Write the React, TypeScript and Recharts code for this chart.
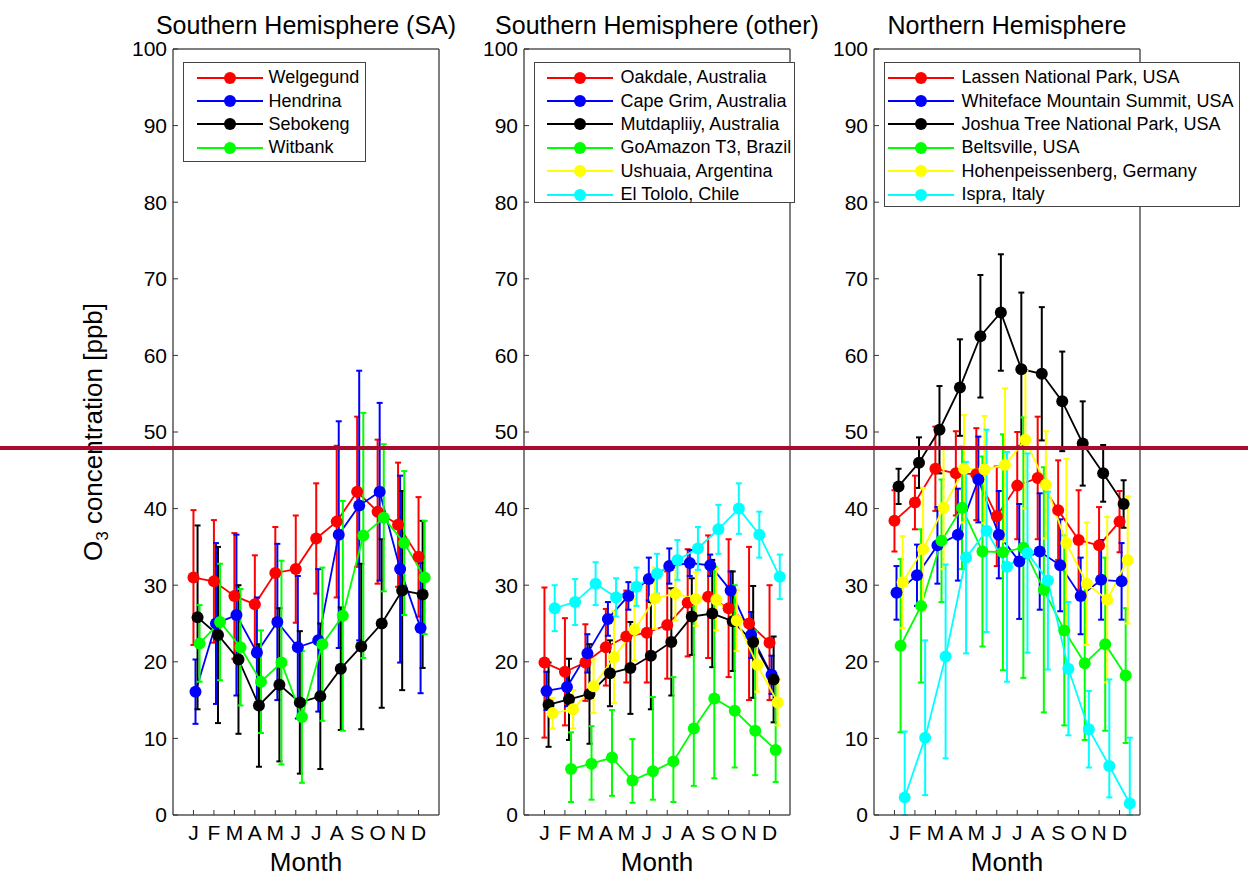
import { ErrorBar, Label, Legend, Line, LineChart, XAxis, YAxis } from 'recharts';

const FONT = '"Liberation Sans", Arial, Helvetica, sans-serif';

const MONTHS = ['J', 'F', 'M', 'A', 'M', 'J', 'J', 'A', 'S', 'O', 'N', 'D'];
const MONTH_NUM = [1, 2, 3, 4, 5, 6, 7, 8, 9, 10, 11, 12];
const Y_TICKS = [0, 10, 20, 30, 40, 50, 60, 70, 80, 90, 100];

const COLORS = [
    '#FF0000', // red
    '#0000FF', // blue
    '#000000', // black
    '#00FF00', // green
    '#FFFF00', // yellow
    '#00FFFF', // cyan
];

// --- Southern Hemisphere (SA)
const SA_NAMES = ['Welgegund', 'Hendrina', 'Sebokeng', 'Witbank'];
const welgegund = [31.0, 30.5, 28.6, 27.5, 31.6, 32.1, 36.1, 38.3, 42.2, 39.6, 37.9, 33.7];
const welgegundErr = [8.8, 8.0, 8.2, 6.4, 6.0, 7.0, 7.2, 9.9, 9.8, 9.4, 8.1, 7.8];
const hendrina = [16.1, 25.0, 26.1, 21.2, 25.2, 21.9, 22.8, 36.6, 40.4, 42.2, 32.1, 24.4];
const hendrinaErr = [4.2, 10.5, 10.5, 7.2, 10.2, 9.3, 9.3, 14.8, 17.6, 11.6, 12.2, 8.5];
const sebokeng = [25.8, 23.5, 20.3, 14.3, 17.0, 14.7, 15.5, 19.1, 22.0, 25.0, 29.3, 28.8];
const sebokengErr = [12, 11.5, 9.7, 8, 10, 9.3, 9.5, 8, 10.8, 11, 13, 9.6];
const witbank = [22.4, 25.2, 21.9, 17.4, 19.9, 12.8, 22.3, 26.0, 36.5, 38.8, 35.5, 31.0];
const witbankErr = [5, 7.6, 7.6, 6.7, 13.3, 8.6, 10, 15, 16, 9.6, 9.4, 7.4];

// --- Southern Hemisphere (other)
const SO_NAMES = [
    'Oakdale, Australia',
    'Cape Grim, Australia',
    'Mutdapliiy, Australia',
    'GoAmazon T3, Brazil',
    'Ushuaia, Argentina',
    'El Tololo, Chile',
];
const oakdale = [19.9, 18.7, 19.9, 21.9, 23.3, 23.8, 24.8, 27.7, 28.5, 27.0, 25.0, 22.5];
const oakdaleErr = [9.8, 7, 5, 5, 6, 6.5, 7, 7, 8, 9, 10, 7.5];
const capeGrim = [16.2, 16.7, 21.1, 25.6, 28.6, 30.8, 32.5, 32.9, 32.6, 29.3, 23.5, 18.3];
const capeGrimErr = [2.5, 2.5, 2.5, 2.2, 1.8, 2.8, 2.3, 1.7, 1.4, 2.5, 3, 2.5];
const mutdapliiy = [14.4, 15.1, 15.8, 18.5, 19.2, 20.8, 22.6, 25.9, 26.3, 25.3, 22.6, 17.7];
const mutdapliiyErr = [5.5, 5.3, 6.5, 4.3, 6, 7, 7, 5, 7, 6.5, 7.3, 5.6];
const goAmazon = [null, 6.0, 6.7, 7.5, 4.5, 5.7, 7.0, 11.3, 15.2, 13.6, 11.0, 8.5];
const goAmazonErr = [null, [4.3, 4.8], [4.7, 4.9], [5, 6.2], [2.9, 5.4], [3.7, 9.7], [5.3, 11], [7.5, 16], [10.4, 17.2], [7.4, 16.4], [5.8, 13], [4.2, 9.1]];
const ushuaia = [13.3, 13.8, 16.8, 20.6, 24.2, 28.3, 28.9, 28.2, 28.1, 25.4, 19.6, 14.7];
const ushuaiaErr = [2, 2.5, 3.5, 6, 4, 4, 3.5, 3.5, 4, 4, 3.5, 3];
const elTololo = [27.0, 27.8, 30.2, 28.4, 29.8, 31.5, 33.3, 34.8, 37.3, 40.0, 36.6, 31.1];
const elTololoErr = [3, 3, 2.8, 2.5, 2.5, 2.6, 2.6, 2.8, 3.2, 3.3, 3, 2.9];

// --- Northern Hemisphere
const NH_NAMES = [
    'Lassen National Park, USA',
    'Whiteface Mountain Summit, USA',
    'Joshua Tree National Park, USA',
    'Beltsville, USA',
    'Hohenpeissenberg, Germany',
    'Ispra, Italy',
];
const lassen = [38.4, 40.8, 45.2, 44.6, 44.5, 39.0, 43.0, 44.0, 39.8, 35.9, 35.2, 38.3];
const lassenErr = [4, 3.5, 5.5, 5.5, 6, 6.5, 7, 8, 6.5, 6.5, 5, 4];
const whiteface = [29.0, 31.3, 35.2, 36.6, 43.8, 36.6, 33.1, 34.4, 32.6, 28.6, 30.7, 30.5];
const whitefaceErr = [3.5, 4, 5, 6, 5.6, 5.7, 7.5, 7.6, 6, 5, 5.2, 5];
const joshuaTree = [42.9, 46.0, 50.3, 55.8, 62.5, 65.6, 58.2, 57.6, 54.0, 48.5, 44.6, 40.6];
const joshuaTreeErr = [2.3, 3.3, 5.7, 6.3, 8, 7.6, 10, 8.7, 6.5, 5.5, 3.7, 3.1];
const beltsville = [22.1, 27.3, 35.8, 40.1, 34.4, 34.3, 34.9, 29.4, 24.1, 19.8, 22.3, 18.2];
const beltsvilleErr = [11.3, 10, 8, 8, 12.4, 15.4, 17, 16, 12.4, 10, 11.3, 8.8];
const hohenpeissenberg = [30.4, 34.7, 40.1, 45.2, 45.1, 45.7, 49.0, 43.1, 35.5, 30.2, 28.1, 33.3];
const hohenpeissenbergErr = [6, 8, 8, 7, 7, 10, 9, 7, 11, 8, 10.8, 8.3];
const ispra = [2.3, 10.1, 20.7, 33.6, 37.1, 32.4, 34.2, 30.6, 19.1, 11.2, 6.4, 1.5];
const ispraErr = [[2.3, 8.6], [7.5, 12.7], [13.3, 12], 12.5, 13.2, 15, 13, 11.6, 8.7, 5, [4.1, 11.3], [1.5, 8.6]];

const PANELS = [
    {
        title: 'Southern Hemisphere (SA)',
        names: SA_NAMES,
        values: [welgegund, hendrina, sebokeng, witbank],
        errs: [welgegundErr, hendrinaErr, sebokengErr, witbankErr],
        left: 40,
        yWidth: 133,
        legend: { left: 143, width: 183, height: 100, pad: 12.5, gap: 6 },
    },
    {
        title: 'Southern Hemisphere (other)',
        names: SO_NAMES,
        values: [oakdale, capeGrim, mutdapliiy, goAmazon, ushuaia, elTololo],
        errs: [oakdaleErr, capeGrimErr, mutdapliiyErr, goAmazonErr, ushuaiaErr, elTololoErr],
        left: 444,
        yWidth: 80,
        legend: { left: 90, width: 261, height: 141, pad: 11.5, gap: 8 },
    },
    {
        title: 'Northern Hemisphere',
        names: NH_NAMES,
        values: [lassen, whiteface, joshuaTree, beltsville, hohenpeissenberg, ispra],
        errs: [lassenErr, whitefaceErr, joshuaTreeErr, beltsvilleErr, hohenpeissenbergErr, ispraErr],
        left: 794,
        yWidth: 80,
        legend: { left: 90, width: 356, height: 145, pad: 2.5, gap: 8 },
    },
];

const PLOT_W = 266;
const RIGHT_W = 5;
const CHART_H = 876;

const axisLine = { stroke: '#555', strokeWidth: 1.5 };
const tickLine = { stroke: '#333', strokeWidth: 1 };

// each station is shifted a little along x so bars don't sit on top of each other
const buildSeries = (values, errs, k) =>
    MONTH_NUM.map((m, i) => ({ x: m + k * 0.1, y: values[i], err: errs[i] })).filter((d) => d.y != null);

const YLabel = (props) => {
    const { viewBox } = props;
    const x = viewBox.x + 62;
    const y = viewBox.y + viewBox.height / 2;
    return (
        <text x={x} y={y} transform={`rotate(-90, ${x}, ${y})`} textAnchor='middle' fill='#000' fontSize={26} fontFamily={FONT}>
            O
            <tspan fontSize={17} dy='0.35em'>
                3
            </tspan>
            <tspan dy='-0.24em'> concentration [ppb]</tspan>
        </text>
    );
};

const renderLegend = (names, cfg) => () => (
    <div
        style={{
            border: '1.5px solid #444',
            background: '#fff',
            width: cfg.width,
            height: cfg.height,
            boxSizing: 'border-box',
            paddingTop: 3,
            fontFamily: FONT,
        }}
    >
        {names.map((name, i) => (
            <div key={name} style={{ display: 'flex', alignItems: 'center', height: 23.4, fontSize: 18, color: '#000', whiteSpace: 'nowrap' }}>
                <svg width={66} height={14} style={{ marginLeft: cfg.pad, marginRight: cfg.gap, flex: 'none' }}>
                    <line x1={0} y1={7} x2={66} y2={7} stroke={COLORS[i]} strokeWidth={2} />
                    <circle cx={33} cy={7} r={6} fill={COLORS[i]} />
                </svg>
                {name}
            </div>
        ))}
    </div>
);

function Panel({ panel, showYLabel }) {
    const width = panel.yWidth + PLOT_W + RIGHT_W;
    return (
        <div style={{ position: 'absolute', left: panel.left, top: 0 }}>
            <LineChart width={width} height={CHART_H} margin={{ top: 48, right: 0, bottom: 0, left: 0 }}>
                <XAxis
                    dataKey='x'
                    type='number'
                    domain={[0, 13]}
                    ticks={MONTH_NUM}
                    interval={0}
                    allowDataOverflow
                    tickFormatter={(v) => MONTHS[v - 1]}
                    height={61}
                    tickSize={-5}
                    tickMargin={15}
                    axisLine={axisLine}
                    tickLine={tickLine}
                    tick={{ fill: '#000', fontSize: 21, fontFamily: FONT }}
                >
                    <Label value='Month' position='insideBottom' offset={5} fill='#000' fontSize={26} fontFamily={FONT} />
                </XAxis>
                <XAxis
                    xAxisId='top'
                    orientation='top'
                    dataKey='x'
                    type='number'
                    domain={[0, 13]}
                    ticks={MONTH_NUM}
                    interval={0}
                    allowDataOverflow
                    height={1}
                    tick={false}
                    tickSize={-5}
                    axisLine={axisLine}
                    tickLine={tickLine}
                >
                    <Label value={panel.title} position='top' offset={14} fill='#000' fontSize={25} fontFamily={FONT} />
                </XAxis>
                <YAxis
                    dataKey='y'
                    type='number'
                    domain={[0, 100]}
                    ticks={Y_TICKS}
                    interval={0}
                    allowDataOverflow
                    width={panel.yWidth}
                    tickSize={-5}
                    tickMargin={11}
                    axisLine={axisLine}
                    tickLine={tickLine}
                    tick={{ fill: '#000', fontSize: 21, fontFamily: FONT }}
                >
                    {showYLabel && <Label content={YLabel} />}
                </YAxis>
                <YAxis
                    yAxisId='right'
                    orientation='right'
                    type='number'
                    domain={[0, 100]}
                    ticks={Y_TICKS}
                    interval={0}
                    allowDataOverflow
                    width={RIGHT_W}
                    tick={false}
                    tickSize={-5}
                    axisLine={axisLine}
                    tickLine={tickLine}
                />
                <Legend
                    layout='horizontal'
                    align='center'
                    verticalAlign='middle'
                    content={renderLegend(panel.names, panel.legend)}
                    wrapperStyle={{ position: 'absolute', left: panel.legend.left, top: 62, width: 'auto', height: 'auto' }}
                />
                {panel.names.map((name, k) => (
                    <Line
                        key={name}
                        name={name}
                        data={buildSeries(panel.values[k], panel.errs[k], k)}
                        dataKey='y'
                        stroke={COLORS[k]}
                        strokeWidth={1.8}
                        dot={{ r: 6, fill: COLORS[k], stroke: COLORS[k], strokeWidth: 0 }}
                        activeDot={false}
                        isAnimationActive={false}
                    >
                        <ErrorBar dataKey='err' direction='y' width={3} stroke={COLORS[k]} strokeWidth={2} isAnimationActive={false} />
                    </Line>
                ))}
            </LineChart>
        </div>
    );
}

export default function App() {
    return (
        <div style={{ position: 'absolute', left: 0, top: 0, width: 1248, height: 876, background: '#fff', fontFamily: FONT }}>
            <style>{'.recharts-surface { overflow: visible; }'}</style>
            {PANELS.map((p, i) => (
                <Panel key={p.title} panel={p} showYLabel={i === 0} />
            ))}
            <div style={{ position: 'absolute', left: 0, top: 446, width: 1248, height: 4, background: '#AA0A2E', zIndex: 10 }} />
        </div>
    );
}
